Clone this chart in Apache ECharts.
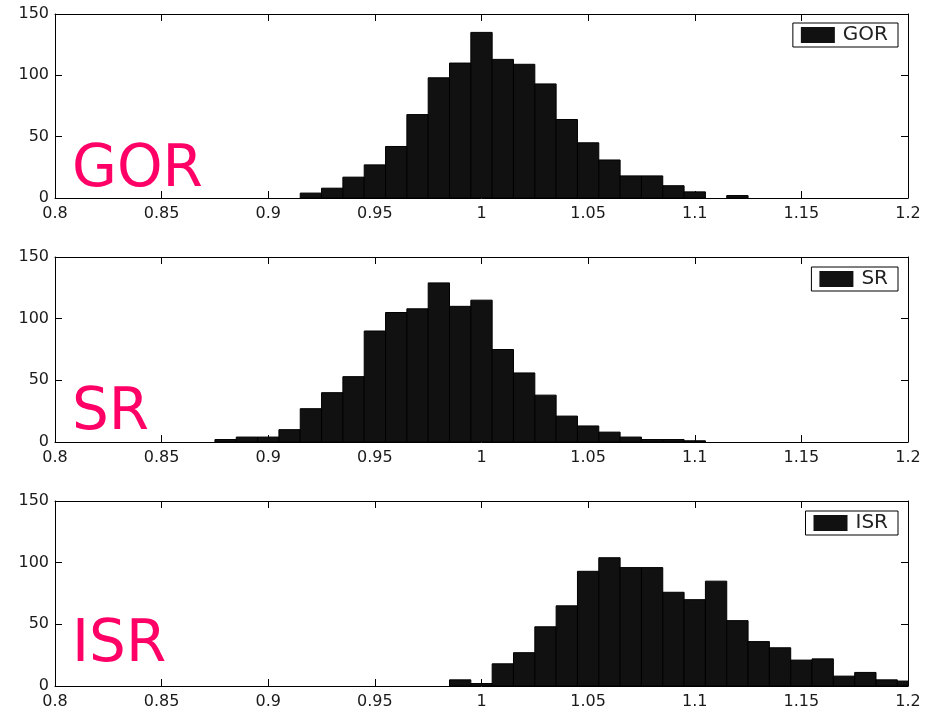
<!DOCTYPE html>
<html>
<head>
<meta charset="utf-8">
<script src="https://cdn.jsdelivr.net/npm/echarts@6/dist/echarts.min.js"></script>
<style>
html,body{margin:0;padding:0;background:#fff;}
#c{width:934px;height:715px;}
</style>
</head>
<body>
<div id="c"></div>
<script>
// ---- data ----
const SERIES_NAMES = ['GOR', 'SR', 'ISR'];
const BIN_WIDTH = 0.01;
const GOR_CENTERS = [0.92,0.93,0.94,0.95,0.96,0.97,0.98,0.99,1.00,1.01,1.02,1.03,1.04,1.05,1.06,1.07,1.08,1.09,1.10,1.11,1.12];
const GOR_COUNTS  = [4,   8,   17,  27,  42,  68,  98,  110, 135, 113, 109, 93,  64,  45,  31,  18,  18,  10,  5,   0,   2];
const SR_CENTERS  = [0.88,0.89,0.90,0.91,0.92,0.93,0.94,0.95,0.96,0.97,0.98,0.99,1.00,1.01,1.02,1.03,1.04,1.05,1.06,1.07,1.08,1.09,1.10];
const SR_COUNTS   = [2,   4,   4,   10,  27,  40,  53,  90,  105, 108, 129, 110, 115, 75,  56,  38,  21,  13,  8,   4,   2,   2,   1];
const ISR_CENTERS = [0.99,1.00,1.01,1.02,1.03,1.04,1.05,1.06,1.07,1.08,1.09,1.10,1.11,1.12,1.13,1.14,1.15,1.16,1.17,1.18,1.19,1.20];
const ISR_COUNTS  = [5,   2,   18,  27,  48,  65,  93,  104, 96,  96,  76,  70,  85,  53,  36,  31,  21,  22,  8,   11,  5,   4];
const X_TICK_LABELS = ['0.8','0.85','0.9','0.95','1','1.05','1.1','1.15','1.2'];
const Y_TICK_LABELS = ['0','50','100','150'];
const X_MIN = 0.8, X_MAX = 1.2, X_STEP = 0.05;
const Y_MIN = 0, Y_MAX = 150, Y_STEP = 50;

const CENTERS = [GOR_CENTERS, SR_CENTERS, ISR_CENTERS];
const COUNTS = [GOR_COUNTS, SR_COUNTS, ISR_COUNTS];

// ---- layout ----
const GRID_TOPS = [14, 257, 501];
const GRID_H = [184, 185, 185];
const LEGEND_TOPS = [23, 267, 511];
const LABEL_TOPS = [142, 385, 617];
const TICK_FONT = 'DejaVu Sans';
const PINK = '#FF0066';

const chart = echarts.init(document.getElementById('c'), null, {renderer: 'canvas'});

const grids = [], xAxes = [], yAxes = [], series = [], legends = [], graphics = [];
for (let i = 0; i < 3; i++) {
  grids.push({left: 55, right: 26, top: GRID_TOPS[i], height: GRID_H[i], containLabel: false});
  const baseX = {
    type: 'value', gridIndex: i, min: X_MIN, max: X_MAX, interval: X_STEP,
    splitLine: {show: false},
    axisLine: {show: true, onZero: false, lineStyle: {color: '#000', width: 1}},
    axisTick: {show: true, inside: true, length: 7, lineStyle: {color: '#000', width: 1}}
  };
  xAxes.push(Object.assign({}, baseX, {
    position: 'bottom',
    axisLabel: {show: true, margin: 8, fontFamily: TICK_FONT, fontSize: 16, color: '#1a1a1a',
      formatter: v => X_TICK_LABELS[Math.round((v - X_MIN) / X_STEP)]}
  }));
  const baseY = {
    type: 'value', gridIndex: i, min: Y_MIN, max: Y_MAX, interval: Y_STEP,
    splitLine: {show: false},
    axisLine: {show: true, onZero: false, lineStyle: {color: '#000', width: 1}},
    axisTick: {show: true, inside: true, length: 7, lineStyle: {color: '#000', width: 1}}
  };
  yAxes.push(Object.assign({}, baseY, {
    position: 'left',
    axisLabel: {show: true, margin: 6, fontFamily: TICK_FONT, fontSize: 16, color: '#1a1a1a',
      formatter: v => Y_TICK_LABELS[Math.round((v - Y_MIN) / Y_STEP)]}
  }));
}
for (let i = 0; i < 3; i++) {
  xAxes.push({
    type: 'value', gridIndex: i, min: X_MIN, max: X_MAX, interval: X_STEP, position: 'top',
    splitLine: {show: false}, axisLabel: {show: false},
    axisLine: {show: true, onZero: false, lineStyle: {color: '#000', width: 1}},
    axisTick: {show: true, inside: true, length: 7, lineStyle: {color: '#000', width: 1}}
  });
  yAxes.push({
    type: 'value', gridIndex: i, min: Y_MIN, max: Y_MAX, interval: Y_STEP, position: 'right',
    splitLine: {show: false}, axisLabel: {show: false},
    axisLine: {show: true, onZero: false, lineStyle: {color: '#000', width: 1}},
    axisTick: {show: true, inside: true, length: 7, lineStyle: {color: '#000', width: 1}}
  });
}

for (let i = 0; i < 3; i++) {
  const data = CENTERS[i].map((c, k) => [c, COUNTS[i][k]]);
  series.push({
    type: 'custom', name: SERIES_NAMES[i], xAxisIndex: i, yAxisIndex: i,
    clip: true, silent: true,
    itemStyle: {color: '#111'},
    encode: {x: 0, y: 1},
    data: data,
    renderItem: function (params, api) {
      const x = api.value(0), y = api.value(1);
      if (!y) return null;
      const p0 = api.coord([x - BIN_WIDTH / 2, y]);
      const p1 = api.coord([x + BIN_WIDTH / 2, 0]);
      return {
        type: 'rect',
        shape: {x: p0[0], y: p0[1], width: p1[0] - p0[0], height: p1[1] - p0[1]},
        style: {fill: '#111', stroke: '#000', lineWidth: 1}
      };
    }
  });
  legends.push({
    data: [{name: SERIES_NAMES[i], icon: 'rect'}],
    right: 36, top: LEGEND_TOPS[i],
    selectedMode: false,
    itemWidth: 34, itemHeight: 16,
    borderColor: '#000', borderWidth: 1, borderRadius: 0,
    padding: [2, 10, 2, 8],
    backgroundColor: '#fff',
    textStyle: {fontFamily: TICK_FONT, fontSize: 20, color: '#222', padding: [0, 0, 0, 3]}
  });
  graphics.push({
    type: 'text', left: 72, top: LABEL_TOPS[i], z: 10,
    style: {text: SERIES_NAMES[i], fill: PINK, font: '58px "DejaVu Sans"'}
  });
}

chart.setOption({
  animation: false,
  backgroundColor: '#fff',
  grid: grids, xAxis: xAxes, yAxis: yAxes, series: series, legend: legends, graphic: graphics
});
</script>
</body>
</html>
